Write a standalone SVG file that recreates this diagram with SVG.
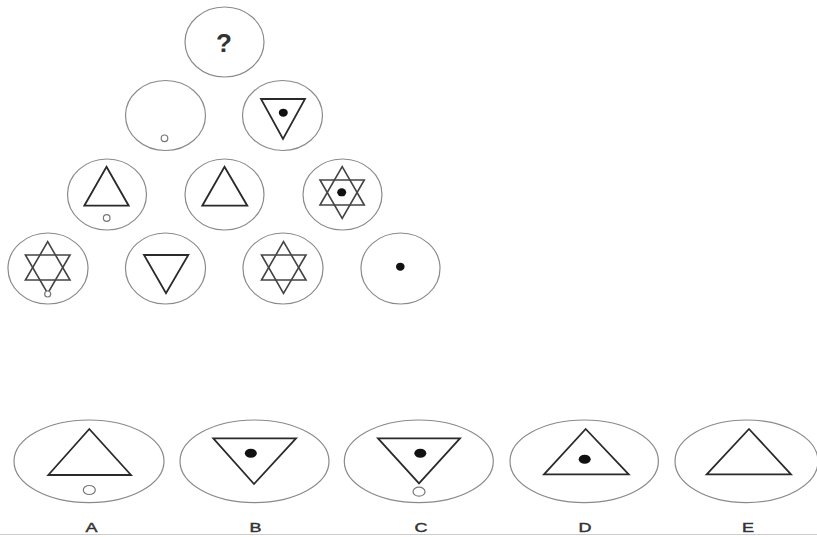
<svg xmlns="http://www.w3.org/2000/svg" width="817" height="537" viewBox="0 0 817 537">
<style>
.ring{fill:#fff;stroke:#8a8a8a;stroke-width:1.2}
.sh{fill:none;stroke:#2a2a2a;stroke-width:1.8;stroke-linejoin:miter}
.st{fill:none;stroke:#444;stroke-width:1.6}
.dot{fill:#111}
.hole{fill:#fff;stroke:#777;stroke-width:1.2}
.lbl{font-family:"Liberation Sans",Arial,sans-serif;font-size:12px;fill:#333;stroke:#333;stroke-width:0.4;text-anchor:middle}
.q{font-family:"Liberation Sans",Arial,sans-serif;font-size:26px;font-weight:bold;fill:#333;text-anchor:middle}
</style>
<rect width="817" height="537" fill="#fff"/>
<g id="r1c1"><ellipse class="ring" cx="224.5" cy="42" rx="39.5" ry="35"/><text class="q" x="224" y="51.5">?</text></g>
<g id="r2c1"><ellipse class="ring" cx="165.5" cy="115.5" rx="40" ry="35"/><circle class="hole" cx="164.5" cy="138.3" r="3.3"/></g>
<g id="r2c2"><ellipse class="ring" cx="282.5" cy="115.5" rx="40" ry="35"/><polygon class="sh" points="261,99 305,99 283,139"/><ellipse class="dot" cx="283.3" cy="112.7" rx="4.5" ry="4"/></g>
<g id="r3c1"><ellipse class="ring" cx="107" cy="194.5" rx="39.5" ry="35.5"/><polygon class="sh" points="106.5,166.7 128.7,205.7 84.3,205.7"/><circle class="hole" cx="106.7" cy="218" r="3.3"/></g>
<g id="r3c2"><ellipse class="ring" cx="224.5" cy="194.5" rx="39.5" ry="35.5"/><polygon class="sh" points="224.5,166.7 247.3,205.7 202.3,205.7"/></g>
<g id="r3c3"><ellipse class="ring" cx="342.5" cy="194.5" rx="39.5" ry="35.5"/><polygon class="st" points="342.2,166.7 364.3,205 320,205"/><polygon class="st" points="320,180 364.3,180 342.2,218.3"/><ellipse class="dot" cx="341.7" cy="192.3" rx="4.5" ry="4"/></g>
<g id="r4c1"><ellipse class="ring" cx="48" cy="268.5" rx="40" ry="35.5"/><polygon class="st" points="47.7,241.7 70,280 25.4,280"/><polygon class="st" points="25.4,255 70,255 47.7,293.3"/><circle class="hole" cx="47.7" cy="294" r="3"/></g>
<g id="r4c2"><ellipse class="ring" cx="165.5" cy="268.5" rx="40" ry="35.5"/><polygon class="sh" points="144,255 188.3,255 166,293.3"/></g>
<g id="r4c3"><ellipse class="ring" cx="283" cy="268.5" rx="40" ry="35.5"/><polygon class="st" points="283.5,241.7 306,280 261.5,280"/><polygon class="st" points="261.5,255 306,255 283.5,293.3"/></g>
<g id="r4c4"><ellipse class="ring" cx="400.5" cy="268.5" rx="39.5" ry="35.5"/><ellipse class="dot" cx="400.3" cy="266.7" rx="4.3" ry="4"/></g>
<g id="optA"><ellipse class="ring" cx="89" cy="461.3" rx="75" ry="41.3"/><polygon class="sh" points="89.3,429 131,475 48.3,475"/><ellipse class="hole" cx="89.3" cy="490" rx="6" ry="4.5"/><text class="lbl" transform="translate(91.5,531.5) scale(1.5,1)">A</text></g>
<g id="optB"><ellipse class="ring" cx="254.5" cy="461.3" rx="74.5" ry="41.3"/><polygon class="sh" points="213.3,438.3 296,438.3 254,484"/><ellipse class="dot" cx="250.8" cy="453.3" rx="6" ry="4.5"/><text class="lbl" transform="translate(255.5,531.5) scale(1.5,1)">B</text></g>
<g id="optC"><ellipse class="ring" cx="418.8" cy="461.3" rx="74.5" ry="41.3"/><polygon class="sh" points="378,438.3 460,438.3 419,483.3"/><ellipse class="dot" cx="420.3" cy="453.3" rx="6" ry="4.5"/><ellipse class="hole" cx="419" cy="491.7" rx="6" ry="4.5"/><text class="lbl" transform="translate(421,531.5) scale(1.5,1)">C</text></g>
<g id="optD"><ellipse class="ring" cx="584.2" cy="461.3" rx="74.2" ry="41.3"/><polygon class="sh" points="585.7,429 628.7,474.3 544,474.3"/><ellipse class="dot" cx="584.7" cy="459.3" rx="6" ry="4.5"/><text class="lbl" transform="translate(585,531.5) scale(1.5,1)">D</text></g>
<g id="optE"><ellipse class="ring" cx="746.5" cy="461.3" rx="71.5" ry="41.3"/><polygon class="sh" points="749,429 791,474.3 706.7,474.3"/><text class="lbl" transform="translate(748,531.5) scale(1.5,1)">E</text></g>
<g id="connectors"></g>
<line x1="0" y1="534.5" x2="817" y2="534.5" stroke="#ccc" stroke-width="1"/>
</svg>
